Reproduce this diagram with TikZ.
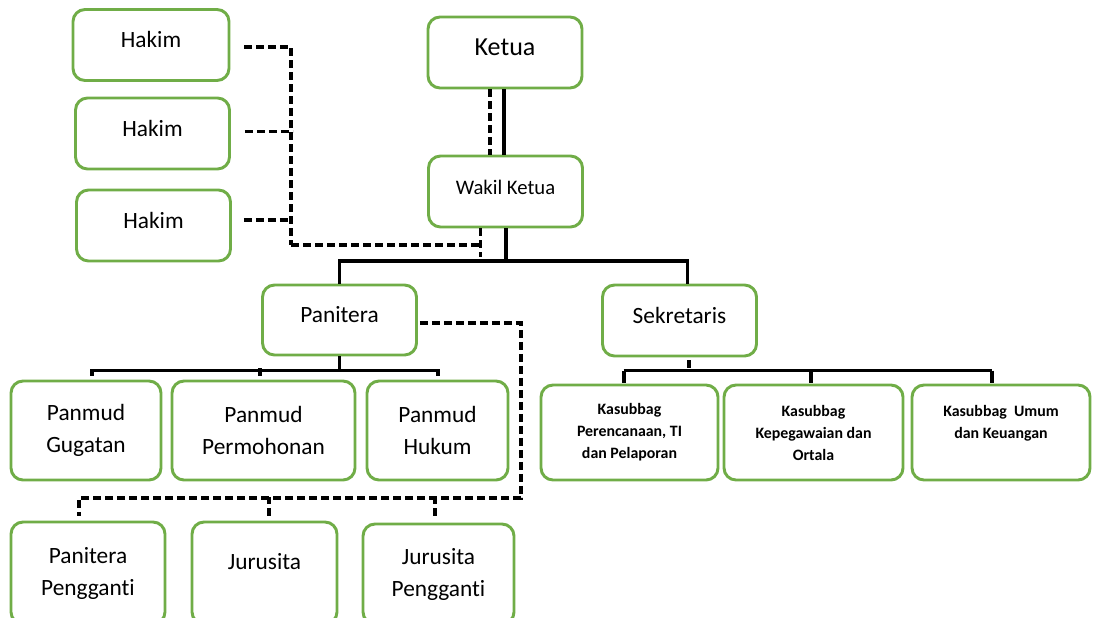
\documentclass[tikz,border=0pt]{standalone}
\usepackage{fontspec}
\setmainfont{Carlito}[Ligatures={NoCommon}]
\usetikzlibrary{calc}
\definecolor{boxgreen}{RGB}{112,173,71}

\begin{document}
\begin{tikzpicture}[x=0.75pt, y=-0.75pt,
box/.style={rectangle, draw=boxgreen, line width=2.2pt, rounded corners=9pt, fill=white, inner sep=0pt, align=center, font=\fontsize{17.5pt}{24pt}\selectfont},
single/.style={box, text height=12pt, text depth=8pt},
top/.style={single, minimum width=115.5pt, minimum height=53.25pt},
panmud/.style={box, minimum height=74.25pt},
kasub/.style={box, minimum height=71.25pt, font=\bfseries\fontsize{11.9pt}{16.5pt}\selectfont},
staff/.style={box, minimum height=76.5pt},
sline/.style={line width=2.5pt},
dline/.style={line width=2.5pt, dash pattern=on 6pt off 3pt},
tick/.style={line width=3.2pt},
thinbar/.style={line width=1.8pt}]

\useasboundingbox (0,0) rectangle (1094,617);
\clip (0,0) rectangle (1094,617);

\node[top, minimum width=117pt] (hakimA) at (151,45) {Hakim};
\node[top] (hakimB) at (152.5,133.5) {Hakim};
\node[top] (hakimC) at (153.5,225.5) {Hakim};

\node[top, font=\fontsize{19.5pt}{24pt}\selectfont] (ketua) at (505,52.5) {Ketua};
\node[top, font=\fontsize{15.5pt}{20pt}\selectfont] (wakil) at (505.5,191.5) {Wakil Ketua};

\node[top, minimum height=52.5pt] (panitera) at (339.5,320) {Panitera};
\node[top] (sekretaris) at (679.5,320.5) {Sekretaris};

\node[panmud, minimum width=112.5pt] (gugatan) at (86,430.5) {Panmud\\Gugatan};
\node[panmud, minimum width=137.25pt] (permohonan) at (263.5,430.5) {Panmud\\Permohonan};
\node[panmud, minimum width=105.75pt] (hukum) at (437.5,430.5) {Panmud\\Hukum};

\node[kasub, minimum width=132.75pt] (kasubA) at (629.5,432.5) {Kasubbag\\Perencanaan, TI\\dan Pelaporan};
\node[kasub, minimum width=134.25pt] (kasubB) at (813.5,432.5) {Kasubbag\\Kepegawaian dan\\Ortala};
\node[kasub, minimum width=133.5pt] (kasubC) at (1001,432.5) {Kasubbag~~Umum\\dan Keuangan\\\mbox{}};

\node[staff, minimum width=115.5pt] (pengganti) at (88,573) {Panitera\\Pengganti};
\node[staff, minimum width=108.75pt, text height=12pt, text depth=17pt] (jurusita) at (264.5,573) {Jurusita};
\node[staff, minimum width=113.25pt, minimum height=75pt] (jurusitaP) at (438.5,574) {Jurusita\\Pengganti};

% hakim -> wakil ketua
\coordinate (hbus) at (291,245);
\coordinate (wdash) at ($(wakil.south)+(-25,0)$);
\draw[dline] ($(hakimA.east)+(14,2)$) -| (hbus);
\draw[dline] ($(hakimB.east)+(14,-2)$) -- ($(hakimB.east)+(62,-2)$);
\draw[dline] ($(hakimC.east)+(12,-5.5)$) -- ($(hakimC.east)+(60,-5.5)$);
\draw[dline] (hbus) -- (hbus -| wdash);
\draw[dline] (wdash) -- ($(wdash)+(0,29)$);

% ketua -> wakil ketua
\draw[sline] ($(ketua.south)+(-1,0)$) -- ($(wakil.north)+(-1.5,0)$);
\draw[dline] ($(ketua.south)+(-15,0)$) -- ($(wakil.north)+(-15.5,0)$);

% wakil ketua -> panitera, sekretaris
\coordinate (bus) at (506,261);
\draw[sline] (wakil.south -| bus) -- (bus);
\draw[sline] (panitera.north) |- (bus) -| ($(sekretaris.north)+(8,0)$);

% panitera -> panmud
\coordinate (pbus) at ($(panitera.south)+(0,14)$);
\draw[sline] (panitera.south) -- (pbus);
\draw[sline] ($(gugatan.north)+(6,-4)$) |- (pbus) -| ($(hukum.north)+(0.5,-4)$);
\draw[tick] ($(permohonan.north)+(-3.5,-4)$) -- ($(permohonan.north)+(-3.5,-12)$);

% panitera -> staff (dashed)
\coordinate (pdash) at (521,498);
\draw[dline] ($(panitera.east)+(2,3)$) -| (pdash) -| ($(pengganti.north)+(-9,-5)$);
\draw[dline] ($(jurusita.north)+(4.5,-5)$) -- ($(jurusita.north)+(4.5,-24)$);
\draw[dline] ($(jurusitaP.north)+(-3.5,-7)$) -- ($(jurusitaP.north)+(-3.5,-26)$);

% sekretaris -> kasubbag
\coordinate (sbus) at (689,372);
\draw[sline] ($(sekretaris.south)+(9.5,3)$) -- ($(sbus)+(0,-4)$);
\draw[thinbar] ($(kasubA.north)+(-6,-13)$) -- ($(kasubC.north)+(-9,-13)$);
\draw[tick] ($(kasubA.north)+(-5.5,-13)$) -- ($(kasubA.north)+(-5.5,-1)$);
\draw[tick] ($(kasubB.north)+(-2.5,-13)$) -- ($(kasubB.north)+(-2.5,-1)$);
\draw[tick] ($(kasubC.north)+(-9,-13)$) -- ($(kasubC.north)+(-9,-1)$);

\end{tikzpicture}
\end{document}
